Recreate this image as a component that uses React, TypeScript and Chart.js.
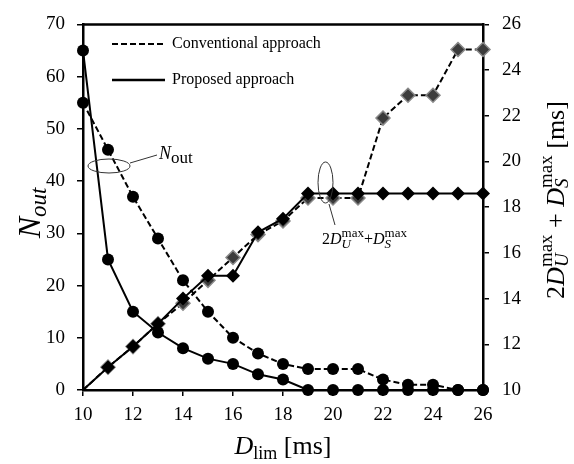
import React, { useEffect, useRef } from "react";
import { Chart, registerables } from "chart.js";

Chart.register(...registerables);

const dlim = [10, 11, 12, 13, 14, 15, 16, 17, 18, 19, 20, 21, 22, 23, 24, 25, 26];
const noutConventional = [55, 46, 37, 29, 21, 15, 10, 7, 5, 4, 4, 4, 2, 1, 1, 0, 0];
const noutProposed = [65, 25, 15, 11, 8, 6, 5, 3, 2, 0, 0, 0, 0, 0, 0, 0, 0];
const delayConventional = [10, 11, 11.9, 12.9, 13.8, 14.8, 15.8, 16.8, 17.4, 18.4, 18.4, 18.4, 21.9, 22.9, 22.9, 24.9, 24.9];
const delayProposed = [10, 11, 11.9, 12.9, 14, 15, 15, 16.9, 17.5, 18.6, 18.6, 18.6, 18.6, 18.6, 18.6, 18.6, 18.6];

const xTicks = [10, 12, 14, 16, 18, 20, 22, 24, 26];
const leftTicks = [0, 10, 20, 30, 40, 50, 60, 70];
const rightTicks = [10, 12, 14, 16, 18, 20, 22, 24, 26];

const legendLabels = ["Conventional approach", "Proposed approach"];

const SERIF = "'Liberation Serif', 'Times New Roman', serif";

type Piece = { t: string; f: string; dy?: number; stack?: { t: string; f: string; dy: number }[] };

function widthOf(ctx: CanvasRenderingContext2D, segs: Piece[]) {
  let w = 0;
  for (const s of segs) {
    if (s.stack) {
      let m = 0;
      for (const p of s.stack) {
        ctx.font = p.f;
        m = Math.max(m, ctx.measureText(p.t).width);
      }
      w += m;
    } else {
      ctx.font = s.f;
      w += ctx.measureText(s.t).width;
    }
  }
  return w;
}

function drawPieces(ctx: CanvasRenderingContext2D, segs: Piece[], x: number, y: number) {
  let cx = x;
  ctx.textBaseline = "alphabetic";
  ctx.textAlign = "left";
  for (const s of segs) {
    if (s.stack) {
      let m = 0;
      for (const p of s.stack) {
        ctx.font = p.f;
        ctx.fillText(p.t, cx, y + p.dy);
        m = Math.max(m, ctx.measureText(p.t).width);
      }
      cx += m;
    } else {
      ctx.font = s.f;
      ctx.fillText(s.t, cx, y + (s.dy || 0));
      cx += ctx.measureText(s.t).width;
    }
  }
}

const decor = {
  id: "decor",
  afterDraw(chart: any) {
    const ctx: CanvasRenderingContext2D = chart.ctx;
    const a = chart.chartArea;
    ctx.save();
    ctx.fillStyle = "#000";
    ctx.strokeStyle = "#000";

    // top frame line
    ctx.lineWidth = 2.5;
    ctx.beginPath();
    ctx.moveTo(a.left - 1, a.top);
    ctx.lineTo(a.right + 1, a.top);
    ctx.stroke();

    // legend
    ctx.lineWidth = 2;
    ctx.setLineDash([6, 3]);
    ctx.beginPath();
    ctx.moveTo(112, 44);
    ctx.lineTo(165, 44);
    ctx.stroke();
    ctx.setLineDash([]);
    ctx.lineWidth = 2.5;
    ctx.beginPath();
    ctx.moveTo(112, 80);
    ctx.lineTo(165, 80);
    ctx.stroke();
    ctx.font = `16px ${SERIF}`;
    ctx.textBaseline = "middle";
    ctx.textAlign = "left";
    ctx.fillText(legendLabels[0], 172, 44);
    ctx.fillText(legendLabels[1], 172, 80);

    // N_out annotation
    ctx.lineWidth = 1;
    ctx.strokeStyle = "#333";
    ctx.beginPath();
    ctx.ellipse(109, 166, 21, 7, 0, 0, Math.PI * 2);
    ctx.stroke();
    ctx.beginPath();
    ctx.moveTo(130, 163);
    ctx.lineTo(157, 155);
    ctx.stroke();
    drawPieces(ctx, [
      { t: "N", f: `italic 18px ${SERIF}` },
      { t: "out", f: `17px ${SERIF}`, dy: 4 },
    ], 159, 159);

    // delay annotation
    ctx.beginPath();
    ctx.ellipse(325.5, 182.5, 7.5, 20.5, 0, 0, Math.PI * 2);
    ctx.stroke();
    ctx.beginPath();
    ctx.moveTo(329, 204);
    ctx.lineTo(335, 225);
    ctx.stroke();
    drawPieces(ctx, [
      { t: "2", f: `16px ${SERIF}` },
      { t: "D", f: `italic 16px ${SERIF}` },
      { t: "", f: "", stack: [
        { t: "max", f: `13px ${SERIF}`, dy: -7 },
        { t: "U", f: `italic 13px ${SERIF}`, dy: 4 },
      ] },
      { t: "+", f: `16px ${SERIF}` },
      { t: "D", f: `italic 16px ${SERIF}` },
      { t: "", f: "", stack: [
        { t: "max", f: `13px ${SERIF}`, dy: -7 },
        { t: "S", f: `italic 13px ${SERIF}`, dy: 4 },
      ] },
    ], 322, 244);

    // axis titles
    // bottom
    const bottom: Piece[] = [
      { t: "D", f: `italic 26px ${SERIF}` },
      { t: "lim", f: `18px ${SERIF}`, dy: 5 },
      { t: " [ms]", f: `26px ${SERIF}` },
    ];
    const bw = widthOf(ctx, bottom);
    drawPieces(ctx, bottom, (a.left + a.right) / 2 - bw / 2, 454);

    // left
    const left: Piece[] = [
      { t: "N", f: `italic 32px ${SERIF}` },
      { t: "out", f: `italic 23px ${SERIF}`, dy: 6 },
    ];
    const lw = widthOf(ctx, left);
    ctx.save();
    ctx.translate(40, 213);
    ctx.rotate(-Math.PI / 2);
    drawPieces(ctx, left, -lw / 2, 0);
    ctx.restore();

    // right
    const right: Piece[] = [
      { t: "2", f: `26px ${SERIF}` },
      { t: "D", f: `italic 26px ${SERIF}` },
      { t: "", f: "", stack: [
        { t: "max", f: `19px ${SERIF}`, dy: -12 },
        { t: "U", f: `italic 19px ${SERIF}`, dy: 4 },
      ] },
      { t: " + ", f: `26px ${SERIF}` },
      { t: "D", f: `italic 26px ${SERIF}` },
      { t: "", f: "", stack: [
        { t: "max", f: `19px ${SERIF}`, dy: -12 },
        { t: "S", f: `italic 19px ${SERIF}`, dy: 4 },
      ] },
      { t: " [ms]", f: `26px ${SERIF}` },
    ];
    const rw = widthOf(ctx, right);
    ctx.save();
    ctx.translate(564, 200);
    ctx.rotate(-Math.PI / 2);
    drawPieces(ctx, right, -rw / 2, 0);
    ctx.restore();

    ctx.restore();
  },
};

export default function App() {
  const ref = useRef<HTMLCanvasElement | null>(null);

  useEffect(() => {
    document.body.style.margin = "0";
    const canvas = ref.current;
    if (!canvas) return;
    const pts = (ys: number[]) => dlim.map((x, i) => ({ x, y: ys[i] }));
    const tickFont = { family: SERIF, size: 19 };
    const chart = new Chart(canvas, {
      type: "line",
      data: {
        datasets: [
          {
            label: "Nout proposed",
            data: pts(noutProposed),
            yAxisID: "yL",
            borderColor: "#000",
            backgroundColor: "#000",
            borderWidth: 2,
            pointStyle: "circle",
            pointRadius: 6,
            pointBorderWidth: 0,
            tension: 0,
          },
          {
            label: "Delay proposed",
            data: pts(delayProposed),
            yAxisID: "yR",
            borderColor: "#000",
            backgroundColor: "#000",
            borderWidth: 2,
            pointStyle: "rectRot",
            pointRadius: dlim.map((_, i) => (i === 0 ? 0 : 7)),
            pointBorderWidth: 0,
            tension: 0,
          },
          {
            label: "Nout conventional",
            data: pts(noutConventional),
            yAxisID: "yL",
            borderColor: "#000",
            backgroundColor: "#000",
            borderWidth: 2,
            borderDash: [6, 3],
            pointStyle: "circle",
            pointRadius: 6,
            pointBorderWidth: 0,
            tension: 0,
          },
          {
            label: "Delay conventional",
            data: pts(delayConventional),
            yAxisID: "yR",
            borderColor: "#000",
            backgroundColor: "#3c3c3c",
            pointBorderColor: "#8a8a8a",
            borderWidth: 2,
            borderDash: [6, 3],
            pointStyle: "rectRot",
            pointRadius: dlim.map((_, i) => (i === 0 ? 0 : 7)),
            pointBorderWidth: 1.5,
            tension: 0,
          },
        ],
      },
      options: {
        responsive: false,
        animation: false,
        clip: false as any,
        layout: { padding: { top: 15, left: 0, right: 0, bottom: 0 } },
        plugins: { legend: { display: false }, tooltip: { enabled: false } },
        scales: {
          x: {
            type: "linear",
            min: 10,
            max: 26,
            afterBuildTicks: (s: any) => {
              s.ticks = xTicks.map((v) => ({ value: v }));
            },
            afterFit: (s: any) => {
              s.height = 74;
            },
            ticks: { font: tickFont, color: "#000", padding: 8, maxRotation: 0 },
            grid: { drawOnChartArea: false, drawTicks: true, tickLength: 6, color: "#000", lineWidth: 1.5 },
            border: { display: true, color: "#000", width: 2.5 },
          },
          yL: {
            type: "linear",
            position: "left",
            min: 0,
            max: 70,
            afterBuildTicks: (s: any) => {
              s.ticks = leftTicks.map((v) => ({ value: v }));
            },
            afterFit: (s: any) => {
              s.width = 83;
            },
            ticks: { font: tickFont, color: "#000", padding: 12 },
            grid: { drawOnChartArea: false, drawTicks: true, tickLength: 6, color: "#000", lineWidth: 1.5 },
            border: { display: true, color: "#000", width: 2.5 },
          },
          yR: {
            type: "linear",
            position: "right",
            min: 10,
            max: 26,
            afterBuildTicks: (s: any) => {
              s.ticks = rightTicks.map((v) => ({ value: v }));
            },
            afterFit: (s: any) => {
              s.width = 91;
            },
            ticks: { font: tickFont, color: "#000", padding: 13 },
            grid: { drawOnChartArea: false, drawTicks: true, tickLength: 6, color: "#000", lineWidth: 1.5 },
            border: { display: true, color: "#000", width: 2.5 },
          },
        },
      } as any,
      plugins: [decor],
    });
    return () => chart.destroy();
  }, []);

  return <canvas ref={ref} width={574} height={464} style={{ display: "block" }} />;
}
